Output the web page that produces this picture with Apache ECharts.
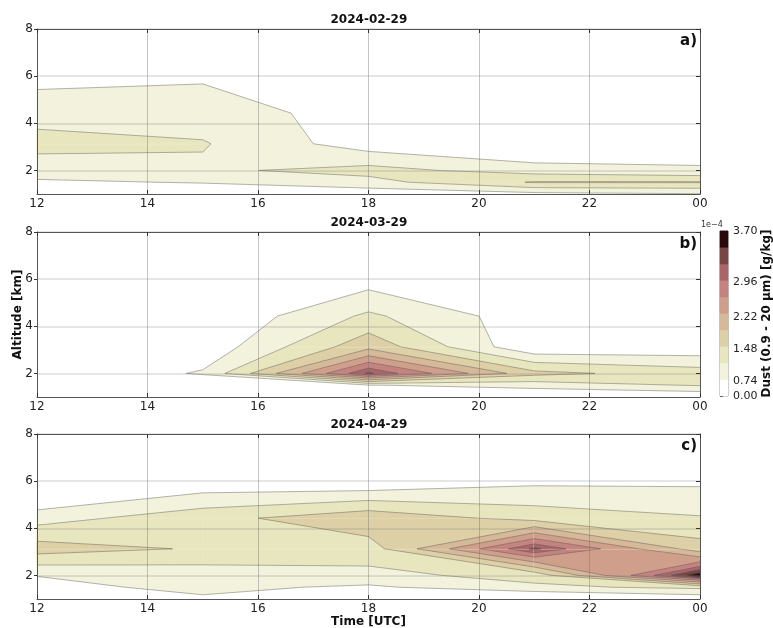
<!DOCTYPE html>
<html>
<head>
<meta charset="utf-8">
<title>Dust profiles</title>
<script src="https://cdn.jsdelivr.net/npm/echarts@6.0.0/dist/echarts.min.js"></script>
<style>
  html, body { margin: 0; padding: 0; background: #fff; }
  #chart { width: 773px; height: 628px; }
</style>
</head>
<body>
<div id="chart"></div>
<script>
// grid of the model output: time nodes (UTC hour) and altitude nodes (km)
const times = [12, 15, 18, 21, 24];
const heights = [1.0, 1.5, 2.0, 3.13, 4.43, 5.85, 7.5];

// contour levels (1e-4 g/kg) and one colour per band
const levels = [0, 0.80, 1.17, 1.55, 1.93, 2.31, 2.67, 3.00, 3.24, 3.47, 3.70];
const bandColors = ['#ffffff', '#f3f2dd', '#e8e6bf', '#ded0a6', '#d6b998', '#cf9f8b', '#c4837e', '#a9666a', '#784444', '#2b0909'];
const cbarTickValues = [0.00, 0.74, 1.48, 2.22, 2.96, 3.70];
const xTicks = [12, 14, 16, 18, 20, 22, 24];
const yTicks = [2, 4, 6, 8];

// dust mixing ratio 0.9-20 um (1e-4 g/kg): one row per time, one value per altitude
const dustFeb = [
  [0.60, 0.75, 0.958, 1.30, 1.027, 0.705, 0.30],
  [0.55, 0.82, 1.103, 1.20, 0.971, 0.775, 0.30],
  [0.56, 1.04, 1.30, 0.60, 0.65, 0.40, 0.20],
  [0.69, 1.58, 0.994, 0.31, 0.30, 0.20, 0.10],
  [0.78, 1.58, 0.848, 0.59, 0.30, 0.20, 0.10]
];
const dustMar = [
  [0.20, 0.30, 0.40, 0.30, 0.20, 0.10, 0.05],
  [0.25, 0.40, 0.844, 0.527, 0.44, 0.20, 0.05],
  [0.30, 0.78, 3.29, 1.807, 1.241, 0.682, 0.20],
  [0.40, 0.95, 1.66, 0.477, 0.58, 0.30, 0.10],
  [0.45, 1.20, 1.36, 0.516, 0.30, 0.20, 0.10]
];
const dustApr = [
  [0.50, 0.686, 0.81, 1.729, 1.002, 0.18, 0.05],
  [0.744, 0.90, 0.945, 1.51, 1.408, 0.603, 0.10],
  [0.60, 0.734, 1.065, 1.362, 1.832, 0.579, 0.10],
  [0.267, 1.10, 1.30, 3.30, 1.40, 0.78, 0.15],
  [0.547, 1.25, 3.65, 1.725, 1.20, 0.774, 0.20]
];

const panelDates = ['2024-02-29', '2024-03-29', '2024-04-29'];
const panelTags = ['a)', 'b)', 'c)'];
const panelData = [dustFeb, dustMar, dustApr];

// layout
const FONT = 'DejaVu Sans';
const plotLeft = 37, plotWidth = 663, plotHeight = 165;
const panelTops = [29, 232, 434];

// ---- marching squares helpers ----
function lerpPt(p, q, vp, vq, lev) {
  const s = (lev - vp) / (vq - vp);
  return [p[0] + s * (q[0] - p[0]), p[1] + s * (q[1] - p[1])];
}

function cellCorners(dust, i, j) {
  const pts = [
    [times[i], heights[j]], [times[i + 1], heights[j]],
    [times[i + 1], heights[j + 1]], [times[i], heights[j + 1]]
  ];
  const vals = [dust[i][j], dust[i + 1][j], dust[i + 1][j + 1], dust[i][j + 1]];
  return { pts, vals };
}

// polygons of the part of a cell where value >= lev
function cellRegion(pts, vals, lev) {
  const above = vals.map(v => v >= lev);
  const n = above.filter(Boolean).length;
  if (n === 0) return [];
  if (n === 4) return [pts];
  if (n === 2 && above[0] === above[2]) {
    const centre = (vals[0] + vals[1] + vals[2] + vals[3]) / 4;
    if (centre < lev) {
      const out = [];
      for (let k = 0; k < 4; k++) {
        if (!above[k]) continue;
        const prev = (k + 3) % 4, next = (k + 1) % 4;
        out.push([
          lerpPt(pts[prev], pts[k], vals[prev], vals[k], lev),
          pts[k],
          lerpPt(pts[k], pts[next], vals[k], vals[next], lev)
        ]);
      }
      return out;
    }
  }
  const poly = [];
  for (let k = 0; k < 4; k++) {
    const next = (k + 1) % 4;
    if (above[k]) poly.push(pts[k]);
    if (above[k] !== above[next]) poly.push(lerpPt(pts[k], pts[next], vals[k], vals[next], lev));
  }
  return [poly];
}

// contour line pieces inside a cell
function cellSegments(pts, vals, lev) {
  const cross = [];
  for (let k = 0; k < 4; k++) {
    const next = (k + 1) % 4;
    if ((vals[k] >= lev) !== (vals[next] >= lev)) {
      cross[k] = lerpPt(pts[k], pts[next], vals[k], vals[next], lev);
    }
  }
  const found = cross.filter(Boolean);
  if (found.length === 2) return [[found[0], found[1]]];
  if (found.length === 4) {
    const centre = (vals[0] + vals[1] + vals[2] + vals[3]) / 4;
    const isolateHigh = centre < lev;
    const segs = [];
    for (let k = 0; k < 4; k++) {
      if ((vals[k] >= lev) === isolateHigh) segs.push([cross[(k + 3) % 4], cross[k]]);
    }
    return segs;
  }
  return [];
}

const cells = [];
for (let i = 0; i < times.length - 1; i++) {
  for (let j = 0; j < heights.length - 1; j++) {
    cells.push([times[i], heights[j], i, j]);
  }
}

function fillRenderer(dust) {
  return function (params, api) {
    const { pts, vals } = cellCorners(dust, api.value(2), api.value(3));
    const children = [];
    for (let k = 1; k < levels.length - 1; k++) {
      cellRegion(pts, vals, levels[k]).forEach(poly => {
        children.push({
          type: 'polygon',
          shape: { points: poly.map(p => api.coord(p)) },
          style: { fill: bandColors[k], stroke: bandColors[k], lineWidth: 0.8 }
        });
      });
    }
    return { type: 'group', children };
  };
}

function lineRenderer(dust) {
  return function (params, api) {
    const { pts, vals } = cellCorners(dust, api.value(2), api.value(3));
    const children = [];
    for (let k = 1; k < levels.length - 1; k++) {
      cellSegments(pts, vals, levels[k]).forEach(seg => {
        const a = api.coord(seg[0]), b = api.coord(seg[1]);
        children.push({
          type: 'line',
          shape: { x1: a[0], y1: a[1], x2: b[0], y2: b[1] },
          style: { stroke: 'rgba(100,100,100,0.65)', lineWidth: 0.7 }
        });
      });
    }
    return { type: 'group', children };
  };
}

// colorbar ticks sit inside equal-height bands
function levelPosition(v) {
  for (let k = 0; k < levels.length - 1; k++) {
    if (v <= levels[k + 1]) return k + (v - levels[k]) / (levels[k + 1] - levels[k]);
  }
  return levels.length - 1;
}
const cbarTickPos = cbarTickValues.map(levelPosition);

const chart = echarts.init(document.getElementById('chart'));

const grids = [], xAxes = [], yAxes = [], series = [], graphics = [];
const axisColor = '#555';

panelTops.forEach((top, p) => {
  grids.push({ left: plotLeft, top: top, width: plotWidth, height: plotHeight, containLabel: false, outerBoundsMode: 'none' });

  xAxes.push({
    type: 'value', gridIndex: p, min: 12, max: 24, interval: 2,
    axisLine: { show: true, onZero: false, lineStyle: { color: axisColor, width: 1 } },
    axisTick: { show: true, inside: true, length: 4, lineStyle: { color: '#333' } },
    axisLabel: {
      color: '#222', fontSize: 12, fontFamily: FONT, margin: 4,
      formatter: v => (v === 24 ? '00' : String(v))
    },
    splitLine: { show: true, lineStyle: { color: 'rgba(110,110,110,0.4)', width: 1 } },
    name: p === 2 ? 'Time [UTC]' : '',
    nameLocation: 'middle', nameGap: 17, nameMoveOverlap: false,
    nameTextStyle: { fontFamily: FONT, fontWeight: 'bold', fontSize: 12, color: '#111' }
  });
  xAxes.push({
    type: 'value', gridIndex: p, position: 'top', min: 12, max: 24, interval: 2,
    axisLine: { show: true, onZero: false, lineStyle: { color: axisColor, width: 1 } },
    axisTick: { show: true, inside: true, length: 4, lineStyle: { color: '#333' } },
    axisLabel: { show: false },
    splitLine: { show: false }
  });

  yAxes.push({
    type: 'value', gridIndex: p, min: 1, max: 8, splitNumber: 3,
    axisLine: { show: true, onZero: false, lineStyle: { color: axisColor, width: 1 } },
    axisTick: { show: true, length: 3, customValues: yTicks, lineStyle: { color: '#333' } },
    axisLabel: { color: '#222', fontSize: 12, fontFamily: FONT, margin: 4, customValues: yTicks },
    splitLine: { show: true, lineStyle: { color: 'rgba(120,120,120,0.25)', width: 1.5 } },
    name: p === 1 ? 'Altitude [km]' : '',
    nameLocation: 'middle', nameGap: 13, nameRotate: 90, nameMoveOverlap: false,
    nameTextStyle: { fontFamily: FONT, fontWeight: 'bold', fontSize: 12, color: '#111' }
  });
  yAxes.push({
    type: 'value', gridIndex: p, position: 'right', min: 1, max: 8, splitNumber: 3,
    axisLine: { show: true, onZero: false, lineStyle: { color: axisColor, width: 1 } },
    axisTick: { show: true, inside: true, length: 4, customValues: yTicks, lineStyle: { color: '#333' } },
    axisLabel: { show: false },
    splitLine: { show: false }
  });

  series.push({
    type: 'custom', name: panelDates[p] + ' fill',
    xAxisIndex: 2 * p, yAxisIndex: 2 * p,
    z: -1, silent: true,
    encode: { x: 0, y: 1 },
    data: cells,
    renderItem: fillRenderer(panelData[p])
  });
  series.push({
    type: 'custom', name: panelDates[p] + ' lines',
    xAxisIndex: 2 * p, yAxisIndex: 2 * p,
    z: 1, silent: true,
    encode: { x: 0, y: 1 },
    data: cells,
    renderItem: lineRenderer(panelData[p])
  });

  graphics.push({
    type: 'text', left: plotLeft + plotWidth / 2 - 38, top: top - 15,
    style: { text: panelDates[p], font: 'bold 12px "DejaVu Sans"', fill: '#111' }
  });
  graphics.push({
    type: 'text', right: 773 - plotLeft - plotWidth + 3, top: top + 5,
    style: { text: panelTags[p], font: 'bold 15px "DejaVu Sans"', fill: '#111' }
  });
});

// colorbar
grids.push({ left: 720, top: 231, width: 8, height: 165, show: true, borderColor: '#666', borderWidth: 0.8, containLabel: false, outerBoundsMode: 'none' });
xAxes.push({ type: 'value', gridIndex: 3, min: 0, max: 1, show: false });
yAxes.push({
  type: 'value', gridIndex: 3, position: 'right', min: 0, max: 10,
  axisLine: { show: false },
  axisTick: { show: true, length: 3, customValues: cbarTickPos, lineStyle: { color: '#333' } },
  axisLabel: {
    color: '#222', fontSize: 11, fontFamily: FONT, margin: 5, customValues: cbarTickPos,
    formatter: v => {
      let best = 0;
      cbarTickPos.forEach((pos, idx) => { if (Math.abs(pos - v) < Math.abs(cbarTickPos[best] - v)) best = idx; });
      return cbarTickValues[best].toFixed(2);
    }
  },
  splitLine: { show: false },
  name: 'Dust (0.9 - 20 \u03bcm) [g/kg]',
  nameLocation: 'middle', nameGap: 33, nameRotate: 90, nameMoveOverlap: false,
  nameTextStyle: { fontFamily: FONT, fontWeight: 'bold', fontSize: 12, color: '#111' }
});
series.push({
  type: 'custom', name: 'colorbar',
  xAxisIndex: 6, yAxisIndex: 6, silent: true,
  encode: { x: 0, y: 1 },
  data: bandColors.map((c, k) => [0, k]),
  renderItem: (params, api) => {
    const k = api.value(1);
    const a = api.coord([0, k + 1]), b = api.coord([1, k]);
    return {
      type: 'rect',
      shape: { x: a[0], y: a[1], width: b[0] - a[0], height: b[1] - a[1] },
      style: { fill: bandColors[k], stroke: bandColors[k], lineWidth: 0.5 }
    };
  }
});
graphics.push({
  type: 'text', left: 701, top: 221,
  style: { text: '1e\u22124', font: '8px "DejaVu Sans"', fill: '#333' }
});

chart.setOption({
  backgroundColor: '#ffffff',
  animation: false,
  grid: grids,
  xAxis: xAxes,
  yAxis: yAxes,
  series: series,
  graphic: graphics
});
</script>
</body>
</html>
